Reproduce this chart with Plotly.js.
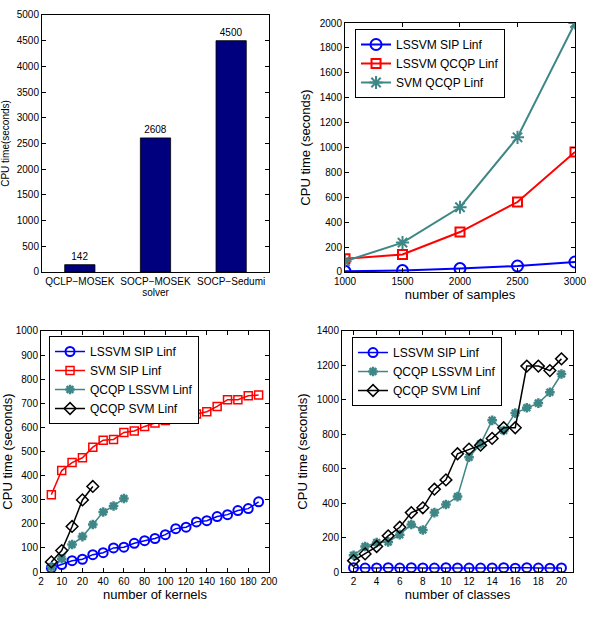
<!DOCTYPE html>
<html>
<head>
<meta charset="utf-8">
<script src="https://cdn.plot.ly/plotly-3.0.1.min.js"></script>
<style>html,body{margin:0;padding:0;background:#fff;}#chart{width:600px;height:629px;}</style>
</head>
<body>
<div id="chart"></div>
<script>
// ---- Panel 1: solver comparison ----
const solvers = ['QCLP\u2212MOSEK', 'SOCP\u2212MOSEK', 'SOCP\u2212Sedumi'];
const solverTimes = [142, 2608, 4500];

// ---- Panel 2: number of samples ----
const samples = [1000, 1500, 2000, 2500, 3000];
const p2_lssvmSip = [5, 11, 27, 48, 80];
const p2_lssvmQcqp = [107, 140, 321, 562, 964];
const p2_svmQcqp = [86, 236, 520, 1082, 2000];

// ---- Panel 3: number of kernels ----
const kernels = [5, 10, 15, 20, 30, 40, 50, 60, 70, 80, 90, 100, 110, 120, 130, 140, 150, 160, 170, 180, 190];
const p3_lssvmSip = [17, 31, 47, 53, 72, 80, 100, 103, 119, 130, 139, 155, 180, 186, 208, 213, 230, 238, 255, 263, 291];
const p3_svmSip = [321, 421, 454, 474, 518, 547, 550, 579, 585, 604, 618, 629, 640, 640, 656, 665, 687, 715, 715, 731, 734];
const p3_qcqpLssvm = [21, 55, 114, 147, 197, 249, 274, 305];
const p3_qcqpSvm = [42, 89, 189, 299, 355];
const kernelTickLabels = ['2', '10', '20', '40', '60', '80', '100', '120', '140', '160', '180', '200'];

// ---- Panel 4: number of classes ----
const classes = [2, 3, 4, 5, 6, 7, 8, 9, 10, 11, 12, 13, 14, 15, 16, 17, 18, 19, 20];
const p4_lssvmSip = [25, 23, 24, 25, 23, 25, 24, 23, 25, 24, 23, 23, 24, 25, 22, 25, 23, 22, 24];
const p4_qcqpLssvm = [97, 148, 171, 175, 217, 276, 244, 345, 392, 438, 667, 745, 881, 822, 923, 954, 981, 1044, 1150];
const p4_qcqpSvm = [66, 105, 148, 210, 260, 345, 373, 481, 535, 687, 714, 737, 776, 838, 838, 1196, 1196, 1170, 1238];

const BLUE = '#0000ff', RED = '#ff0000', TEAL = '#3f8787', BLACK = '#000000', NAVY = '#00007f';
const FONT = 'Liberation Sans, Arial, sans-serif';

// kernel x positions: plotted by point index (axis labels as in original)
const kernelPos = kernels.map((k, i) => i + 1);
const kernelTickVals = kernelTickLabels.map((t, i) => i * 2);

function line(x, y, name, color, symbol, size, xa, ya, legend, lw, mlw) {
  return {
    type: 'scatter', mode: 'lines+markers', x: x, y: y, name: name,
    xaxis: xa, yaxis: ya, legend: legend,
    line: {color: color, width: lw},
    marker: {symbol: symbol, size: size, color: color, line: {color: color, width: mlw}},
    customdata: x
  };
}

const traces = [
  {type: 'bar', x: solvers, y: solverTimes, width: 0.4, xaxis: 'x', yaxis: 'y',
   marker: {color: NAVY, line: {color: '#000', width: 0.8}},
   text: solverTimes.map(String), textposition: 'outside', cliponaxis: false,
   textfont: {family: FONT, size: 10, color: '#000'}, showlegend: false},

  line(samples, p2_lssvmSip, 'LSSVM SIP Linf', BLUE, 'circle-open', 11, 'x2', 'y2', 'legend', 2, 2),
  line(samples, p2_lssvmQcqp, 'LSSVM QCQP Linf', RED, 'square-open', 9, 'x2', 'y2', 'legend', 2, 2),
  line(samples, p2_svmQcqp, 'SVM QCQP Linf', TEAL, 'asterisk-open', 11, 'x2', 'y2', 'legend', 2, 2),

  line(kernelPos, p3_lssvmSip, 'LSSVM SIP Linf', BLUE, 'circle-open', 9, 'x3', 'y3', 'legend2', 1.5, 2),
  line(kernelPos, p3_svmSip, 'SVM SIP Linf', RED, 'square-open', 8, 'x3', 'y3', 'legend2', 1.5, 1.5),
  line(kernelPos.slice(0, p3_qcqpLssvm.length), p3_qcqpLssvm, 'QCQP LSSVM Linf', TEAL, 'asterisk-open', 8, 'x3', 'y3', 'legend2', 1.5, 2.5),
  line(kernelPos.slice(0, p3_qcqpSvm.length), p3_qcqpSvm, 'QCQP SVM Linf', BLACK, 'diamond-open', 9, 'x3', 'y3', 'legend2', 1.5, 1.5),

  line(classes, p4_lssvmSip, 'LSSVM SIP Linf', BLUE, 'circle-open', 9, 'x4', 'y4', 'legend3', 1.5, 2),
  line(classes, p4_qcqpLssvm, 'QCQP LSSVM Linf', TEAL, 'asterisk-open', 8, 'x4', 'y4', 'legend3', 1.5, 2.5),
  line(classes, p4_qcqpSvm, 'QCQP SVM Linf', BLACK, 'diamond-open', 9, 'x4', 'y4', 'legend3', 1.5, 1.5)
];

function ax(extra) {
  return Object.assign({
    showline: true, linecolor: '#000', linewidth: 1, mirror: 'ticks',
    ticks: 'inside', ticklen: 4, tickcolor: '#000', tickwidth: 1,
    showgrid: false, zeroline: false,
    tickfont: {family: FONT, size: 10, color: '#000'}
  }, extra);
}
function ttl(text, size, standoff) {
  return {text: text, font: {family: FONT, size: size, color: '#000'}, standoff: standoff};
}
function leg(x, y) {
  return {x: x, y: y, xanchor: 'left', yanchor: 'top', bgcolor: '#fff',
    bordercolor: '#000', borderwidth: 1, font: {family: FONT, size: 12, color: '#000'},
    tracegroupgap: 0, itemwidth: 30};
}

const layout = {
  width: 600, height: 629, margin: {l: 0, r: 0, t: 0, b: 0},
  paper_bgcolor: '#fff', plot_bgcolor: '#fff',
  font: {family: FONT, color: '#000'},
  xaxis: ax({domain: [0.07, 0.4483], anchor: 'y', type: 'category', ticks: '',
    title: ttl('solver', 10, 2)}),
  yaxis: ax({domain: [0.5676, 0.9762], anchor: 'x', range: [0, 5000], dtick: 500,
    title: ttl('CPU time(seconds)', 10, 6)}),
  xaxis2: ax({domain: [0.575, 0.9583], anchor: 'y2', range: [1000, 3000], dtick: 500,
    title: ttl('number of samples', 13, 2)}),
  yaxis2: ax({domain: [0.5676, 0.9634], anchor: 'x2', range: [0, 2000], dtick: 200,
    title: ttl('CPU time (seconds)', 13, 6)}),
  xaxis3: ax({domain: [0.0683, 0.4483], anchor: 'y3', range: [0, 22],
    tickmode: 'array', tickvals: kernelTickVals, ticktext: kernelTickLabels,
    title: ttl('number of kernels', 13, 2)}),
  yaxis3: ax({domain: [0.0906, 0.4738], anchor: 'x3', range: [0, 1000], dtick: 100,
    title: ttl('CPU time (seconds)', 13, 6)}),
  xaxis4: ax({domain: [0.57, 0.955], anchor: 'y4', range: [1, 21], dtick: 2, tick0: 0,
    title: ttl('number of classes', 13, 2)}),
  yaxis4: ax({domain: [0.0906, 0.4738], anchor: 'x4', range: [0, 1400], dtick: 200,
    title: ttl('CPU time (seconds)', 13, 6)}),
  legend: leg(0.5917, 0.9539),
  legend2: leg(0.0817, 0.4658),
  legend3: leg(0.5867, 0.4642),
  showlegend: true
};

Plotly.newPlot('chart', traces, layout, {staticPlot: true, displayModeBar: false});
</script>
</body>
</html>
